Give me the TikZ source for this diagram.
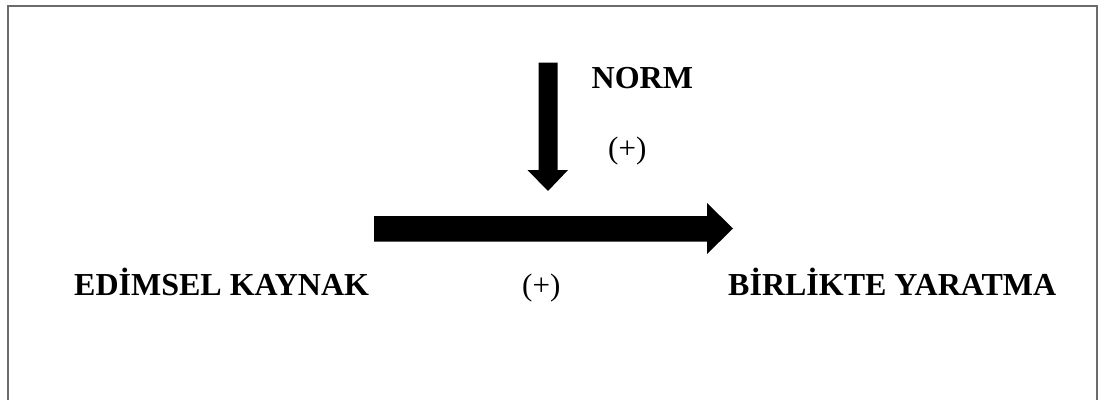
\documentclass[tikz,border=0pt]{standalone}
\usepackage{fontspec}
\setmainfont{Liberation Serif}
\begin{document}
\begin{tikzpicture}[x=1pt,y=-1pt,
  lbl/.style={inner sep=0pt,anchor=base west,font=\fontsize{32}{36}\selectfont\bfseries},
  sgn/.style={inner sep=0pt,anchor=base west,font=\fontsize{31}{36}\selectfont},
  frame/.style={draw=black!58,line width=2pt},
  fatarrow/.style={fill=black,draw=none}]
\useasboundingbox (0,0) rectangle (1098,400);
\draw[frame] (7.5,400) -- (7.5,5.5) -- (1096.5,5.5) -- (1096.5,400);
% vertical arrow
\fill[fatarrow] (538.5,62.5) -- (557.5,62.5) -- (557.5,170) -- (568,170) -- (548,191) -- (527.5,170) -- (538.5,170) -- cycle;
% horizontal arrow
\fill[fatarrow] (374,216) -- (707,216) -- (707,203) -- (733,228.5) -- (707,254) -- (707,241.5) -- (374,241.5) -- cycle;
\node[lbl] (norm) at (591.5,88) {NORM};
\node[sgn] (p1) at (608,158) {(+)};
\node[lbl] (src) at (74,295) {EDİMSEL KAYNAK};
\node[sgn] (p2) at (522,295) {(+)};
\node[lbl] (dst) at (728,295) {BİRLİKTE YARATMA};
\end{tikzpicture}
\end{document}
